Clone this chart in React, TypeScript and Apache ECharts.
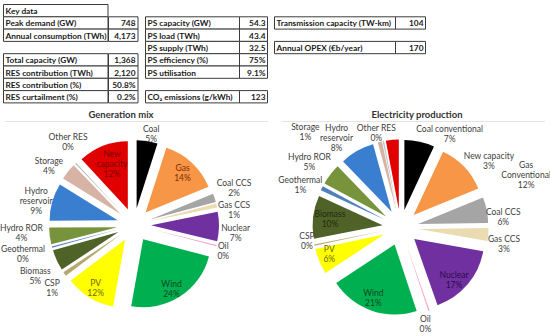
import React, { useEffect, useRef } from 'react';
import * as echarts from 'echarts';

// ---------- Data ----------
const genNames = ['Coal', 'Gas', 'Coal CCS', 'Gas CCS', 'Nuclear', 'Oil', 'Wind', 'PV', 'CSP', 'Biomass', 'Geothermal', 'Hydro ROR', 'Hydro reservoir', 'Storage', 'Other RES', 'New capacity'];
const genLabels = ['Coal', 'Gas', 'Coal CCS', 'Gas CCS', 'Nuclear', 'Oil', 'Wind', 'PV', 'CSP', 'Biomass', 'Geothermal', 'Hydro ROR', 'Hydro\nreservoir', 'Storage', 'Other RES', 'New\ncapacity'];
const genValues = [5, 14, 2, 1, 7, 0.3, 24, 12, 1, 5, 0.3, 4, 9, 4, 0.3, 12];

const prodNames = ['Coal conventional', 'Gas Conventional', 'Coal CCS', 'Gas CCS', 'Nuclear', 'Oil', 'Wind', 'PV', 'CSP', 'Biomass', 'Geothermal', 'Hydro ROR', 'Hydro reservoir', 'Storage', 'Other RES', 'New capacity'];
const prodLabels = ['Coal conventional', 'Gas\nConventional', 'Coal CCS', 'Gas CCS', 'Nuclear', 'Oil', 'Wind', 'PV', 'CSP', 'Biomass', 'Geothermal', 'Hydro ROR', 'Hydro\nreservoir', 'Storage', 'Other RES', 'New capacity'];
const prodValues = [7, 12, 6, 3, 17, 0.3, 21, 6, 0.3, 10, 1, 5, 8, 1, 0.3, 3];

const keyDataTitle = 'Key data';
const demandLabels = ['Peak demand (GW)', 'Annual consumption (TWh)'];
const demandValues = ['748', '4,173'];
const capacityLabels = ['Total capacity (GW)', 'RES contribution (TWh)', 'RES contribution (%)', 'RES curtailment (%)'];
const capacityValues = ['1,368', '2,120', '50.8%', '0.2%'];
const storageLabels = ['PS capacity (GW)', 'PS load (TWh)', 'PS supply (TWh)', 'PS efficiency (%)', 'PS utilisation'];
const storageValues = ['54.3', '43.4', '32.5', '75%', '9.1%'];
const emissionLabels = ['CO₂ emissions (g/kWh)'];
const emissionValues = ['123'];
const transmissionLabels = ['Transmission capacity (TW-km)'];
const transmissionValues = ['104'];
const opexLabels = ['Annual OPEX (€b/year)'];
const opexValues = ['170'];

const chartTitles = ['Generation mix', 'Electricity production'];

// ---------- Styles / layout ----------
const sliceColors = ['#000000', '#F79646', '#A5A5A5', '#EADBB0', '#7030A0', '#F4A6C0', '#00B050', '#FFFF00', '#B5A86A', '#4F6228', '#4F81BD', '#77933C', '#3A7FCF', '#D6B3A5', '#C0C0C0', '#E00000'];
const insideTextColors: Record<number, string> = { 1: '#7F2A00', 4: '#2D0A4A', 6: '#0E4A1E', 7: '#6B6B00', 9: '#1F2A0A', 15: '#7A0000' };
const genInside = [1, 6, 7, 15];
const prodInside = [4, 6, 7, 9];
// label nudges (px) on top of the automatic outside/inside placement
const genNudges: Record<number, [number, number]> = {
  0: [2, 6], 2: [-1, -3], 3: [-2, 9], 4: [0, 6], 5: [-3, 3], 6: [-1, 4], 7: [-1, 2], 8: [-1, 6],
  9: [-3, 7], 10: [-4, 0], 11: [-4, -6], 12: [5, 5], 13: [-4, 7], 14: [8, -5], 15: [4, 5],
};
const prodNudges: Record<number, [number, number]> = {
  0: [26, 11], 1: [40, 29], 2: [-4, 11], 3: [-3, 8], 4: [-3, 5], 5: [-8, 1], 6: [-3, 1], 7: [-3, -2],
  8: [4, -6], 9: [3, 0], 10: [2, 8], 11: [-1, 3], 12: [-9, 7], 13: [-71, 5], 14: [-4, 7], 15: [98, 35],
};
const FONT = 'Lato';
const TABLE_FONT = `bold 8.3px ${FONT}`;
const ROW_H = 12.3;
const ROW0 = 4.5;
const BORDER = '#3c3c3c';

function rowTop(k: number) { return ROW0 + k * ROW_H; }

function tableBlock(labels: string[], values: string[] | null, x0: number, x1: number, x2: number, k0: number, els: any[]) {
  labels.forEach((lab, i) => {
    const y = rowTop(k0 + i);
    els.push({ type: 'rect', shape: { x: Math.round(x0) + 0.5, y: y, width: x1 - x0, height: ROW_H }, style: { fill: '#fff', stroke: BORDER, lineWidth: 1 }, z: 1 });
    els.push({ type: 'text', x: x0 + 2.5, y: y + ROW_H / 2 + 0.5, style: { text: lab, fill: '#1a1a1a', font: TABLE_FONT, textVerticalAlign: 'middle', textAlign: 'left', width: x1 - x0 - 2.5, overflow: 'truncate', ellipsis: '' }, z: 2 });
    if (values) {
      els.push({ type: 'rect', shape: { x: Math.round(x1) + 0.5, y: y, width: x2 - x1, height: ROW_H }, style: { fill: '#fff', stroke: BORDER, lineWidth: 1 }, z: 1 });
      els.push({ type: 'text', x: x2 - 1.5, y: y + ROW_H / 2 + 0.5, style: { text: values[i], fill: '#1a1a1a', font: TABLE_FONT, textVerticalAlign: 'middle', textAlign: 'right' }, z: 2 });
    }
  });
}

function makeLabelLayout(values: number[], cx: number, cy: number, r: number, off: number, inside: number[], nudges: Record<number, [number, number]>) {
  const total = values.reduce((a, b) => a + b, 0);
  const mids: number[] = [];
  let acc = 0;
  values.forEach((v) => { mids.push(((acc + v / 2) / total) * Math.PI * 2); acc += v; });
  return (p: any) => {
    const i = p.dataIndex;
    const a = mids[i];
    const ux = Math.sin(a), uy = -Math.cos(a);
    const w = p.labelRect.width, h = p.labelRect.height;
    let d: number;
    if (inside.indexOf(i) >= 0) d = off + r * 0.8;
    else d = off + r + Math.abs(ux) * w / 2 + Math.abs(uy) * h / 2 + 2;
    const n = nudges[i] || [0, 0];
    return { x: cx + ux * d + n[0], y: cy + uy * d + n[1], align: 'center', verticalAlign: 'middle' };
  };
}

// Visible exploded pie (no labels)
function pieSeries(names: string[], values: number[], cx: number, cy: number, r: number, off: number) {
  return {
    type: 'pie',
    center: [cx, cy],
    radius: r,
    startAngle: 90,
    clockwise: true,
    selectedMode: 'multiple',
    selectedOffset: off,
    label: { show: false },
    labelLine: { show: false },
    itemStyle: { borderWidth: 0 },
    select: { itemStyle: { borderWidth: 0 } },
    emphasis: { disabled: true },
    data: values.map((v, i) => ({ name: names[i], value: v, selected: true, itemStyle: { color: sliceColors[i] } })),
  };
}

// Transparent twin pie that carries the data labels
function labelSeries(names: string[], labels: string[], values: number[], inside: number[], cx: number, cy: number, r: number, off: number, nudges: Record<number, [number, number]>) {
  return {
    type: 'pie',
    center: [cx, cy],
    radius: r,
    startAngle: 90,
    clockwise: true,
    silent: true,
    z: 5,
    avoidLabelOverlap: false,
    label: {
      show: true,
      position: 'outside',
      fontFamily: FONT,
      fontSize: 8.5,
      lineHeight: 10,
      align: 'center',
      formatter: (p: any) => `${labels[p.dataIndex]}\n${Math.round(p.percent)}%`,
    },
    labelLine: { show: false },
    labelLayout: makeLabelLayout(values, cx, cy, r, off, inside, nudges),
    itemStyle: { color: 'rgba(0,0,0,0)', borderWidth: 0 },
    emphasis: { disabled: true },
    data: values.map((v, i) => ({
      name: names[i],
      value: v,
      label: { color: inside.indexOf(i) >= 0 ? insideTextColors[i] : '#404040' },
    })),
  };
}

function buildOption() {
  const els: any[] = [];
  tableBlock([keyDataTitle], null, 3, 107.5, 137, 0, els);
  tableBlock(demandLabels, demandValues, 3, 107.5, 137, 1, els);
  tableBlock(capacityLabels, capacityValues, 3, 107.5, 137, 4, els);
  tableBlock(storageLabels, storageValues, 145, 239, 267, 1, els);
  tableBlock(emissionLabels, emissionValues, 145, 239, 267, 7, els);
  tableBlock(transmissionLabels, transmissionValues, 274, 395, 425, 1, els);
  tableBlock(opexLabels, opexValues, 274, 395, 425, 3, els);
  els.push({ type: 'text', x: 121, y: 114, style: { text: chartTitles[0], font: `bold 9.5px ${FONT}`, fill: '#333', textAlign: 'center', textVerticalAlign: 'middle' } });
  els.push({ type: 'text', x: 417, y: 114, style: { text: chartTitles[1], font: `bold 9.5px ${FONT}`, fill: '#333', textAlign: 'center', textVerticalAlign: 'middle' } });
  els.push({ type: 'line', shape: { x1: 5, y1: 121.5, x2: 268, y2: 121.5 }, style: { stroke: '#e4e4e4', lineWidth: 1 } });
  els.push({ type: 'line', shape: { x1: 282, y1: 121.5, x2: 545, y2: 121.5 }, style: { stroke: '#e4e4e4', lineWidth: 1 } });

  return {
    animation: false,
    backgroundColor: '#ffffff',
    graphic: { elements: els },
    series: [
      pieSeries(genNames, genValues, 134, 225, 68, 17),
      pieSeries(prodNames, prodValues, 400.5, 227.5, 70, 18),
      labelSeries(genNames, genLabels, genValues, genInside, 134, 225, 68, 17, genNudges),
      labelSeries(prodNames, prodLabels, prodValues, prodInside, 400.5, 227.5, 70, 18, prodNudges),
    ],
  };
}

export default function App() {
  const ref = useRef<HTMLDivElement>(null);
  useEffect(() => {
    document.body.style.margin = '0';
    const chart = echarts.init(ref.current!, null, { renderer: 'svg' });
    chart.setOption(buildOption() as any);
    return () => chart.dispose();
  }, []);
  return <div ref={ref} style={{ width: 550, height: 336 }} />;
}
